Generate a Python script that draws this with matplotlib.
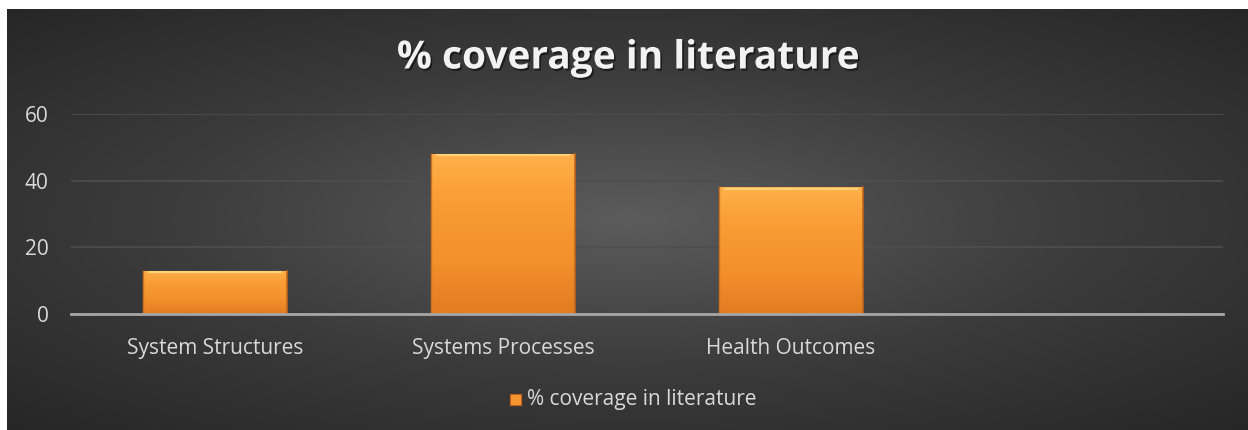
import numpy as np
import matplotlib
matplotlib.use("Agg")
import matplotlib.pyplot as plt
import matplotlib.patheffects as pe
from matplotlib.colors import LinearSegmentedColormap

# data
categories = ["System Structures", "Systems Processes", "Health Outcomes", ""]
coverage = [13, 48, 38, 0]
series_name = "% coverage in literature"
y_ticks = [0, 20, 40, 60]

W, H = 1248, 430
fig = plt.figure(figsize=(W / 100, H / 100), dpi=100)
fig.patch.set_facecolor("white")

# dark radial background (white strip on top and left like the screenshot)
bg = fig.add_axes([7 / W, 0, 1 - 7 / W, 421 / H])
yy, xx = np.mgrid[-1:1:300j, -1:1:800j]
r = np.sqrt((xx * 0.85) ** 2 + (yy * 0.9) ** 2)
bg_cmap = LinearSegmentedColormap.from_list("bg", ["#5c5c5c", "#3c3c3c", "#262626"])
bg.imshow(np.clip(r / 1.25, 0, 1), cmap=bg_cmap, aspect="auto", extent=[0, 1, 0, 1], vmin=0, vmax=1)
bg.set_axis_off()

ax = fig.add_axes([71 / W, 116 / H, 1152 / W, 200 / H])
ax.patch.set_alpha(0)
x = np.arange(len(categories))
bars = ax.bar(x, coverage, width=0.5, color="#f7962f", zorder=3)

# vertical shading inside each bar to mimic the bevel look
bar_cmap = LinearSegmentedColormap.from_list("bar", ["#ffb04a", "#f99a33", "#f3912d", "#e37c22"])
grad = np.linspace(0, 1, 100).reshape(-1, 1)
for b, v in zip(bars, coverage):
    if v <= 0:
        continue
    x0, w = b.get_x(), b.get_width()
    im = ax.imshow(grad, cmap=bar_cmap, aspect="auto", extent=[x0, x0 + w, 0, v], zorder=4)
    im.set_clip_path(b)
    ax.plot([x0 + 0.02, x0 + w - 0.02], [v - 0.35, v - 0.35], color="#ffd27a", lw=1.5, zorder=5)
    ax.plot([x0, x0], [0, v], color="#d27020", lw=1, zorder=5)
    ax.plot([x0 + w, x0 + w], [0, v], color="#c0641a", lw=1.2, zorder=5)

ax.set_xlim(-0.5, len(categories) - 0.5)
ax.set_ylim(0, 60)
ax.set_yticks(y_ticks)
ax.set_xticks(x[:3])
ax.set_xticklabels(categories[:3])
ax.tick_params(colors="#d9d9d9", labelsize=15, length=0)
ax.tick_params(axis="y", pad=16)
ax.tick_params(axis="x", pad=17)
for lab in ax.get_xticklabels() + ax.get_yticklabels():
    lab.set_fontfamily("Open Sans")
ax.grid(axis="y", color="#4e4e4e", lw=1.2, zorder=0)
ax.set_axisbelow(True)
for s in ["top", "right", "left"]:
    ax.spines[s].set_visible(False)
ax.spines["bottom"].set_color("#a6a6a6")
ax.spines["bottom"].set_linewidth(2)
ax.spines["bottom"].set_zorder(6)

fig.text(628 / W, 1 - 58 / H, series_name, ha="center", va="center", color="#f2f2f2",
         fontsize=28, fontweight="bold", fontfamily="Open Sans",
         path_effects=[pe.withSimplePatchShadow(offset=(1.2, -1.5), shadow_rgbFace="black", alpha=0.5)])

# legend
fig.patches.append(plt.Rectangle((510 / W, 1 - 405 / H), 11 / W, 11 / H, transform=fig.transFigure,
                                 facecolor="#f7962f", edgecolor="#c0641a", lw=0.8))
fig.text(527 / W, 1 - 399 / H, series_name, ha="left", va="center", color="#d9d9d9",
         fontsize=15, fontfamily="Open Sans")

fig.savefig("out.png", dpi=100)
